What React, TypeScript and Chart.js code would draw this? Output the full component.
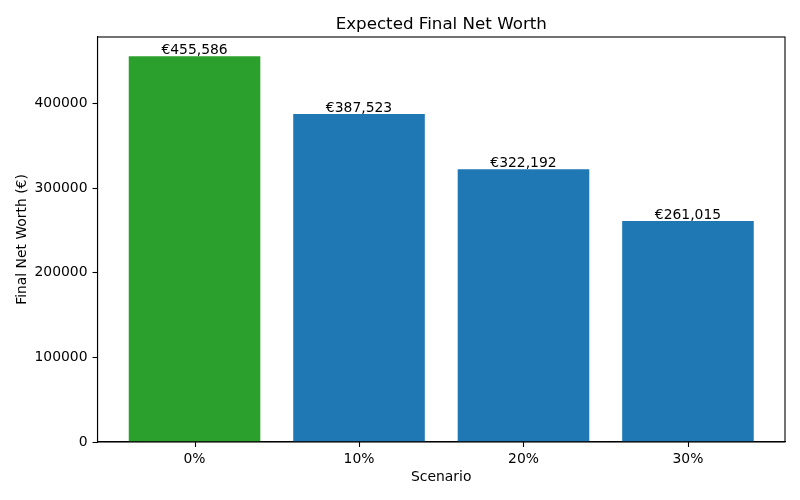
import { useEffect, useRef } from 'react';
import { Chart, registerables, Plugin } from 'chart.js';

Chart.register(...registerables);

// scenario data
const categories = ['0%', '10%', '20%', '30%'];
const netWorth = [455586, 387523, 322192, 261015];
const barColors = ['#2ca02c', '#1f77b4', '#1f77b4', '#1f77b4'];
const yTicks = [0, 100000, 200000, 300000, 400000];

const FONT = "'DejaVu Sans', sans-serif";

// matplotlib-style frame, x tick marks, title and value labels
const decorations: Plugin<'bar'> = {
  id: 'decorations',
  afterDatasetsDraw(chart) {
    const { ctx, chartArea } = chart;
    ctx.save();
    ctx.strokeStyle = '#000';
    ctx.lineWidth = 1.1;
    ctx.strokeRect(chartArea.left, chartArea.top, chartArea.right - chartArea.left, chartArea.bottom - chartArea.top);

    const xScale = chart.scales.x;
    ctx.beginPath();
    categories.forEach((_, i) => {
      const px = Math.round(xScale.getPixelForValue(i)) + 0.5;
      ctx.moveTo(px, chartArea.bottom);
      ctx.lineTo(px, chartArea.bottom + 5);
    });
    ctx.stroke();

    ctx.fillStyle = '#000';
    ctx.textAlign = 'center';
    ctx.textBaseline = 'alphabetic';
    ctx.font = `16.7px ${FONT}`;
    ctx.fillText('Expected Final Net Worth', (chartArea.left + chartArea.right) / 2, 29);

    ctx.font = `13.9px ${FONT}`;
    ctx.textBaseline = 'bottom';
    const meta = chart.getDatasetMeta(0);
    meta.data.forEach((bar, i) => {
      ctx.fillText('€' + netWorth[i].toLocaleString('en-US'), bar.x, bar.y + 1);
    });
    ctx.restore();
  },
};

export default function App() {
  const canvasRef = useRef<HTMLCanvasElement>(null);

  useEffect(() => {
    if (!canvasRef.current) return;
    const tickFont = { family: FONT, size: 13.9 };

    const chart = new Chart(canvasRef.current, {
      type: 'bar',
      data: {
        datasets: [
          {
            data: netWorth.map((v, i) => ({ x: i, y: v })),
            backgroundColor: barColors,
            borderWidth: 0,
            barPercentage: 0.8,
            categoryPercentage: 1.0,
          },
        ],
      },
      options: {
        animation: false,
        responsive: false,
        devicePixelRatio: 1,
        layout: { padding: { top: 37, right: 15, left: 0, bottom: 0 } },
        plugins: { legend: { display: false }, tooltip: { enabled: false } },
        scales: {
          x: {
            type: 'linear',
            min: -0.59,
            max: categories.length - 1 + 0.59,
            offset: false,
            border: { display: true, color: '#000', width: 1.1 },
            grid: {
              offset: false,
              drawOnChartArea: false,
              drawTicks: true,
              tickLength: 5,
              tickColor: 'rgba(0,0,0,0)',
            },
            afterBuildTicks: (scale) => {
              scale.ticks = categories.map((_, i) => ({ value: i }));
            },
            ticks: {
              padding: 4,
              color: '#000',
              font: tickFont,
              maxRotation: 0,
              callback: (v) => categories[Number(v)] ?? '',
            },
            title: {
              display: true,
              text: 'Scenario',
              color: '#000',
              font: tickFont,
              padding: { top: 0, bottom: 14 },
            },
            afterFit: (scale) => {
              scale.height = 58;
            },
          },
          y: {
            min: 0,
            max: Math.max(...netWorth) * 1.05,
            border: { display: true, color: '#000', width: 1.1 },
            grid: { drawOnChartArea: false, drawTicks: true, tickLength: 5, tickColor: '#000', tickWidth: 1.1 },
            afterBuildTicks: (scale) => {
              scale.ticks = yTicks.map((v) => ({ value: v }));
            },
            ticks: {
              padding: 5,
              color: '#000',
              font: tickFont,
              callback: (v) => String(v),
            },
            title: {
              display: true,
              text: 'Final Net Worth (€)',
              color: '#000',
              font: tickFont,
              padding: { top: 14, bottom: 0 },
            },
            afterFit: (scale) => {
              scale.width = 97.5;
            },
          },
        },
      },
      plugins: [decorations],
    });

    return () => chart.destroy();
  }, []);

  return (
    <div style={{ position: 'absolute', left: 0, top: 0, width: 800, height: 500, background: '#fff' }}>
      <canvas ref={canvasRef} width={800} height={500} />
    </div>
  );
}
